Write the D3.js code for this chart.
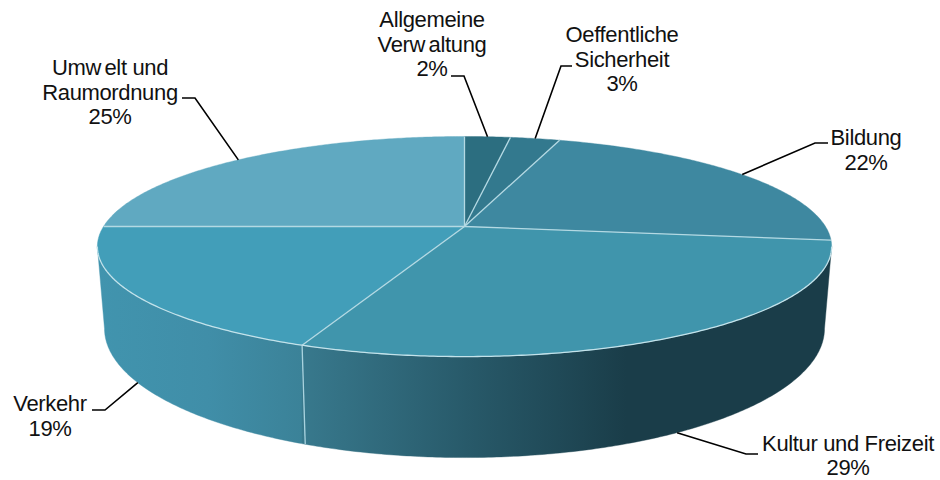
<!DOCTYPE html>
<html><head><meta charset="utf-8">
<script src="https://cdn.jsdelivr.net/npm/d3@7/dist/d3.min.js"></script>
<style>html,body{margin:0;padding:0;background:#fff}svg{display:block}
text{font-family:"Liberation Sans",Arial,sans-serif;font-size:22px;fill:#111;text-anchor:middle;letter-spacing:-.35px}</style>
</head><body><script>
// Data (clockwise from 12 o'clock)
const categories = ["Allgemeine Verwaltung","Oeffentliche Sicherheit","Bildung","Kultur und Freizeit","Verkehr","Umwelt und Raumordnung"];
const values = [2.4, 2.6, 22, 29.1, 18.9, 25];
const topColors = ["#2c6e80","#33798e","#3e88a0","#4095ac","#429eb9","#60a9c1"];

// Label layout, per category
const labelLines = [["Allgemeine","Verwaltung"],["Oeffentliche","Sicherheit"],["Bildung"],["Kultur und Freizeit"],["Verkehr"],["Umwelt und","Raumordnung"]];
const labelCx = [432,622,866,848,50,110];
const labelY  = [27,42,145,451,411,75];
const lineH   = [24.7,24.7,24.7,24,24.7,24.7];
const elbow   = [[451,464,76],[572,561,66],[828,815,143],[758,746,454],[92,105,410],[182,195,98]];

const W = 940, H = 480;
const svg = d3.select("body").append("svg").attr("width",W).attr("height",H);

// Projective view of the disc: top rim and bottom rim
const P = 0.182, CX = 464.5;
const topRim = {R:361, b:106.4, c:226.5};
const botRim = {R:354, b:124.8, c:305};
function project(a, rim){
  const u = Math.sin(a), v = -Math.cos(a), d = 1 - P*v;
  return [CX + rim.R*u/d, rim.c + rim.b*v/d];
}
const samples = (a0,a1) => { const n = Math.max(2,Math.ceil((a1-a0)/0.01)); return d3.range(n+1).map(i=>a0+(a1-a0)*i/n); };
const line = d3.line().curve(d3.curveLinear);

const arcs = d3.pie().sort(null).value(d=>d)(values);

// side wall gradient
const defs = svg.append("defs");
const grad = defs.append("linearGradient").attr("id","wall").attr("gradientUnits","userSpaceOnUse")
  .attr("x1",98).attr("x2",832).attr("y1",0).attr("y2",0);
[[0,"#4194ae"],[.15,"#408ea8"],[.277,"#3b8298"],[.278,"#38798d"],[.5,"#285a6a"],[.72,"#1a3d49"],[1,"#1a3d49"]]
  .forEach(([o,c])=>grad.append("stop").attr("offset",o).attr("stop-color",c));

// walls: visible between the two silhouette angles of the projected disc
const wallMin = Math.acos(-P), wallMax = 2*Math.PI - wallMin;
arcs.forEach(d=>{
  const a0 = Math.max(d.startAngle,wallMin), a1 = Math.min(d.endAngle,wallMax);
  if(a1<=a0) return;
  const s = samples(a0,a1);
  const pts = s.map(a=>project(a,topRim)).concat(s.slice().reverse().map(a=>project(a,botRim)));
  svg.append("path").attr("d",line(pts)+"Z").attr("fill","url(#wall)").attr("stroke","url(#wall)").attr("stroke-width",.4);
});
// wall seam between Kultur und Freizeit and Verkehr
const seamA = arcs[3].endAngle;
svg.append("path").attr("d",line([project(seamA,topRim),project(seamA,botRim)]))
  .attr("stroke","#a9d3df").attr("stroke-width",1.3).attr("fill","none");

// top face
const centre = [CX, topRim.c];
arcs.forEach((d,i)=>{
  const pts = [centre].concat(samples(d.startAngle,d.endAngle).map(a=>project(a,topRim)));
  svg.append("path").attr("d",line(pts)+"Z").attr("fill",topColors[i]).attr("stroke",topColors[i]).attr("stroke-width",.4);
});
// separators and front rim highlight
arcs.forEach(d=>{
  svg.append("path").attr("d",line([centre,project(d.startAngle,topRim)]))
    .attr("stroke","#b4d9e3").attr("stroke-width",1.3).attr("fill","none");
});
svg.append("path").attr("d",line(samples(wallMin,wallMax).map(a=>project(a,topRim))))
  .attr("stroke","#c3e2ea").attr("stroke-width",1.3).attr("fill","none");

// leaders, anchored at each slice's mid-angle
arcs.forEach((d,i)=>{
  const mid = (d.startAngle+d.endAngle)/2;
  const front = i===3||i===4;
  const anchor = project(mid, front?botRim:topRim);
  const [x0,x1,y] = elbow[i];
  svg.append("path").attr("d",line([[x0,y],[x1,y],anchor]))
    .attr("fill","none").attr("stroke","#000").attr("stroke-width",1.6);
});

// labels (the source rendering leaves a small gap after each "w")
labelLines.forEach((ls,i)=>{
  const t = svg.append("text").attr("x",labelCx[i]).attr("y",labelY[i]);
  ls.concat([Math.round(values[i])+"%"]).forEach((s,j)=>{
    const parts = s.split(/(?<=w)/);
    parts.forEach((p,k)=>{
      const sp = t.append("tspan").text(p);
      if(k===0) sp.attr("x",labelCx[i]).attr("dy",j?lineH[i]:0);
      else sp.attr("dx",3.5);
    });
  });
});
</script></body></html>
